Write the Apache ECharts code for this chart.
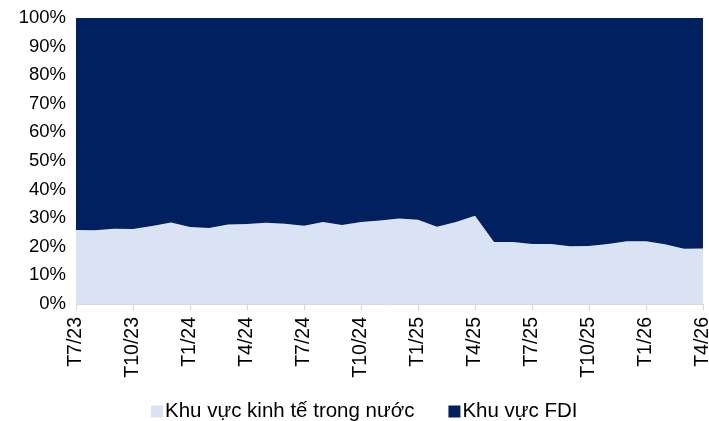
<!DOCTYPE html>
<html>
<head>
<meta charset="utf-8">
<script src="https://cdn.jsdelivr.net/npm/echarts@6/dist/echarts.min.js"></script>
<style>
html,body{margin:0;padding:0;background:#fff;}
#chart{width:709px;height:421px;}
</style>
</head>
<body>
<div id="chart"></div>
<script>
const categories = ['T7/23','T8/23','T9/23','T10/23','T11/23','T12/23',
  'T1/24','T2/24','T3/24','T4/24','T5/24','T6/24','T7/24','T8/24','T9/24','T10/24','T11/24','T12/24',
  'T1/25','T2/25','T3/25','T4/25','T5/25','T6/25','T7/25','T8/25','T9/25','T10/25','T11/25','T12/25',
  'T1/26','T2/26','T3/26','T4/26'];
const domestic = [25.9,25.8,26.3,26.2,27.3,28.5,26.9,26.6,27.8,28.0,28.4,28.1,27.4,28.7,27.6,28.7,29.2,29.9,
  29.5,27.0,28.7,30.9,21.7,21.7,21.0,21.0,20.2,20.3,21.0,21.9,21.9,20.9,19.3,19.4];
const fdi = [74.1,74.2,73.7,73.8,72.7,71.5,73.1,73.4,72.2,72.0,71.6,71.9,72.6,71.3,72.4,71.3,70.8,70.1,
  70.5,73.0,71.3,69.1,78.3,78.3,79.0,79.0,79.8,79.7,79.0,78.1,78.1,79.1,80.7,80.6];
const seriesNames = ['Khu vực kinh tế trong nước','Khu vực FDI'];
const yTicks = [0,10,20,30,40,50,60,70,80,90,100];

const font = "Arial, 'Liberation Sans', sans-serif";
const chart = echarts.init(document.getElementById('chart'));
chart.setOption({
  animation:false,
  textStyle:{fontFamily:font},
  grid:{left:76,right:6,top:18,bottom:117,containLabel:false,outerBoundsMode:'none'},
  legend:{
    left:146, top:396,
    itemWidth:12, itemHeight:12, itemGap:34,
    icon:'rect',
    textStyle:{fontSize:20.5,color:'#000',fontFamily:font,padding:[0,0,0,-3]},
    data:seriesNames
  },
  xAxis:[{
    type:'category', data:categories, boundaryGap:false,
    axisLine:{show:true,lineStyle:{color:'#d9d9d9',width:1}},
    axisTick:{show:true,interval:2,length:6,lineStyle:{color:'#d9d9d9'}},
    axisLabel:{interval:2,rotate:90,margin:13,fontSize:19.5,color:'#000',fontFamily:font},
    splitLine:{show:false}
  },{
    type:'category', data:categories, boundaryGap:false, position:'top',
    axisLine:{show:true,lineStyle:{color:'#d9d9d9',width:1}},
    axisTick:{show:false}, axisLabel:{show:false}, splitLine:{show:false}
  }],
  yAxis:{
    type:'value', min:0, max:100, interval:10,
    axisLine:{show:false}, axisTick:{show:false},
    axisLabel:{margin:10,fontSize:18.5,color:'#000',fontFamily:font,
      formatter:function(v){return yTicks.indexOf(v)>=0 ? v+'%' : '';}},
    splitLine:{show:false}
  },
  series:[{
    name:seriesNames[0], type:'line', stack:'total', data:domestic,
    symbol:'none', lineStyle:{width:0}, itemStyle:{color:'#dae3f3'},
    areaStyle:{color:'#dae3f3',opacity:1}
  },{
    name:seriesNames[1], type:'line', stack:'total', data:fdi,
    symbol:'none', lineStyle:{width:0}, itemStyle:{color:'#002060'},
    areaStyle:{color:'#002060',opacity:1}
  }]
});
</script>
</body>
</html>
